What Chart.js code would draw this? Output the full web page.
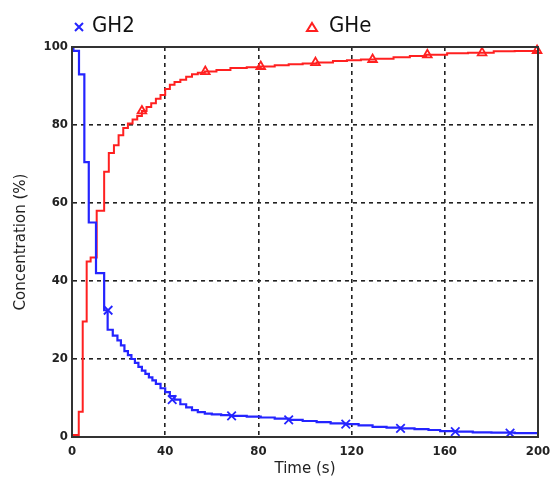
<!DOCTYPE html>
<html lang="en">

<head>
    <meta charset="UTF-8">
    <title>Concentration vs Time</title>
    <script src="https://cdn.jsdelivr.net/npm/chart.js"></script>
    <style>
        html, body {
            margin: 0;
            padding: 0;
            background: #fff;
        }

        .wrap {
            width: 550px;
            height: 487px;
        }
    </style>
</head>

<body>
    <div class="wrap">
        <canvas id="concChart" width="550" height="487"></canvas>
    </div>

    <script>
        // GH2 step curve: time of each step (s) and the new concentration (%)
        const gh2Time = [0, 0.6, 3, 5.3, 7.2, 10.3, 13.8, 15.3, 17.5, 19.5, 21, 22.5, 24, 25.5, 27, 28.5, 30, 31.5,
            33, 34.5, 36, 38, 40, 42, 44, 46.5, 49, 51.5, 54, 57, 60, 64, 68, 75, 81, 87, 93, 99, 105, 111, 117,
            123, 129, 135, 141, 147, 153, 158, 165, 172, 180, 190, 200];
        const gh2Conc = [100, 99, 93, 70.5, 55, 42, 32.5, 27.5, 26, 24.8, 23.5, 22, 21, 20, 19, 18, 17, 16.2,
            15.3, 14.5, 13.6, 12.5, 11.5, 10.5, 9.6, 8.4, 7.6, 6.9, 6.4, 6.0, 5.8, 5.6, 5.4, 5.2, 5.0, 4.7, 4.4,
            4.1, 3.8, 3.5, 3.3, 3.0, 2.6, 2.4, 2.2, 2.0, 1.8, 1.5, 1.4, 1.2, 1.1, 1.0, 1.0];

        // GHe step curve
        const gheTime = [0, 2.9, 4.6, 6.3, 8, 10.6, 13.8, 15.8, 18, 20, 22, 24, 26, 28, 30, 32, 34, 36, 38, 40,
            42, 44, 46.5, 49, 51.5, 54, 57, 62, 68, 75, 81, 87, 93, 99, 105, 112, 118, 124, 130, 138, 145, 152,
            161, 170, 181, 190, 200];
        const gheConc = [0.5, 6.5, 29.6, 45, 46, 58, 68, 72.8, 74.8, 77.4, 79.2, 80.4, 81.4, 82.3, 83.6, 84.6,
            85.6, 86.7, 87.7, 89.2, 90.3, 91, 91.6, 92.4, 93, 93.4, 93.7, 94.1, 94.6, 94.8, 95, 95.3, 95.6, 95.8,
            96, 96.4, 96.6, 96.8, 97, 97.4, 97.7, 98.0, 98.4, 98.5, 98.9, 99, 99.1];

        // marker positions along each curve
        const gh2MarkTime = [15.5, 43, 68.5, 93, 117.5, 141, 164.5, 188];
        const gh2MarkConc = [32.5, 9.6, 5.4, 4.4, 3.3, 2.2, 1.4, 1.0];
        const gheMarkTime = [30, 57.2, 81, 104.5, 129, 152.5, 176, 199.6];
        const gheMarkConc = [83.6, 93.7, 95, 96, 96.8, 98.0, 98.5, 99.1];

        const seriesNames = ['GH2', 'GHe'];
        const xTicks = [0, 40, 80, 120, 160, 200];
        const yTicks = [0, 20, 40, 60, 80, 100];

        const blue = '#2424ff';
        const red = '#ff2020';

        function toPoints(xs, ys) {
            return xs.map((x, i) => ({ x: x, y: ys[i] }));
        }

        // legend drawn above the plot, plus the box around the axes
        const framePlugin = {
            id: 'frame',
            afterDraw(chart) {
                const ctx = chart.ctx;
                const a = chart.chartArea;
                ctx.save();
                ctx.strokeStyle = '#333';
                ctx.lineWidth = 2;
                ctx.strokeRect(a.left, a.top, a.right - a.left, a.bottom - a.top);

                ctx.font = '22px "DejaVu Sans Condensed", "DejaVu Sans", sans-serif';
                ctx.textBaseline = 'middle';
                ctx.textAlign = 'left';
                ctx.fillStyle = '#111';

                // GH2 cross marker
                ctx.strokeStyle = blue;
                ctx.lineWidth = 2;
                ctx.beginPath();
                ctx.moveTo(75, 23); ctx.lineTo(83, 31);
                ctx.moveTo(83, 23); ctx.lineTo(75, 31);
                ctx.stroke();
                ctx.fillText(seriesNames[0], 92, 26);

                // GHe triangle marker
                ctx.strokeStyle = red;
                ctx.beginPath();
                ctx.moveTo(312, 23); ctx.lineTo(317, 31); ctx.lineTo(307, 31); ctx.closePath();
                ctx.stroke();
                ctx.fillText(seriesNames[1], 329, 26);
                ctx.restore();
            }
        };

        const tickFont = { family: '"DejaVu Sans Condensed", "DejaVu Sans", sans-serif', size: 13, weight: 'bold' };
        const titleFont = { family: '"DejaVu Sans", sans-serif', size: 15 };

        function gridColor(max) {
            return ctx => (ctx.tick && (ctx.tick.value === 0 || ctx.tick.value === max)) ? 'rgba(0,0,0,0)' : '#222';
        }

        const chart = new Chart(document.getElementById('concChart'), {
            type: 'line',
            data: {
                datasets: [{
                    label: seriesNames[0],
                    data: toPoints(gh2Time, gh2Conc),
                    borderColor: blue,
                    borderWidth: 2.2,
                    stepped: 'before',
                    pointRadius: 0,
                    clip: 4
                }, {
                    label: seriesNames[1],
                    data: toPoints(gheTime, gheConc),
                    borderColor: red,
                    borderWidth: 2,
                    stepped: 'before',
                    pointRadius: 0,
                    clip: 4
                }, {
                    label: seriesNames[0] + ' markers',
                    data: toPoints(gh2MarkTime, gh2MarkConc),
                    showLine: false,
                    pointStyle: 'crossRot',
                    pointRadius: 6,
                    pointBorderWidth: 1.8,
                    borderColor: blue,
                    backgroundColor: 'rgba(0,0,0,0)',
                    clip: 8
                }, {
                    label: seriesNames[1] + ' markers',
                    data: toPoints(gheMarkTime, gheMarkConc),
                    showLine: false,
                    pointStyle: 'triangle',
                    pointRadius: 5,
                    pointBorderWidth: 1.8,
                    borderColor: red,
                    backgroundColor: 'rgba(0,0,0,0)',
                    clip: 8
                }]
            },
            options: {
                responsive: false,
                animation: false,
                layout: {
                    padding: { top: 47, right: 12, left: 0, bottom: 0 }
                },
                plugins: {
                    legend: { display: false },
                    tooltip: { enabled: false }
                },
                scales: {
                    x: {
                        type: 'linear',
                        min: 0,
                        max: 200,
                        afterBuildTicks: scale => { scale.ticks = xTicks.map(v => ({ value: v })); },
                        afterFit: scale => {
                            scale.height = 50;
                            scale.paddingLeft = 0;
                            scale.paddingRight = 0;
                        },
                        grid: { color: gridColor(200), lineWidth: 1.6, drawTicks: false },
                        border: { display: true, color: '#333', width: 2, dash: [4, 4] },
                        ticks: { color: '#222', font: tickFont, padding: 7, maxRotation: 0 },
                        title: {
                            display: true,
                            text: 'Time (s)',
                            color: '#222',
                            font: titleFont,
                            padding: { top: 0, bottom: 9 }
                        }
                    },
                    y: {
                        min: 0,
                        max: 100,
                        afterBuildTicks: scale => { scale.ticks = yTicks.map(v => ({ value: v })); },
                        afterFit: scale => {
                            scale.width = 72;
                            scale.paddingTop = 0;
                            scale.paddingBottom = 0;
                        },
                        grid: { color: gridColor(100), lineWidth: 1.6, drawTicks: false },
                        border: { display: true, color: '#333', width: 2, dash: [4, 4] },
                        ticks: { color: '#222', font: tickFont, padding: 4 },
                        title: {
                            display: true,
                            text: 'Concentration (%)',
                            color: '#222',
                            font: titleFont,
                            padding: { top: 12, bottom: 0 }
                        }
                    }
                }
            },
            plugins: [framePlugin]
        });
    </script>
</body>

</html>
